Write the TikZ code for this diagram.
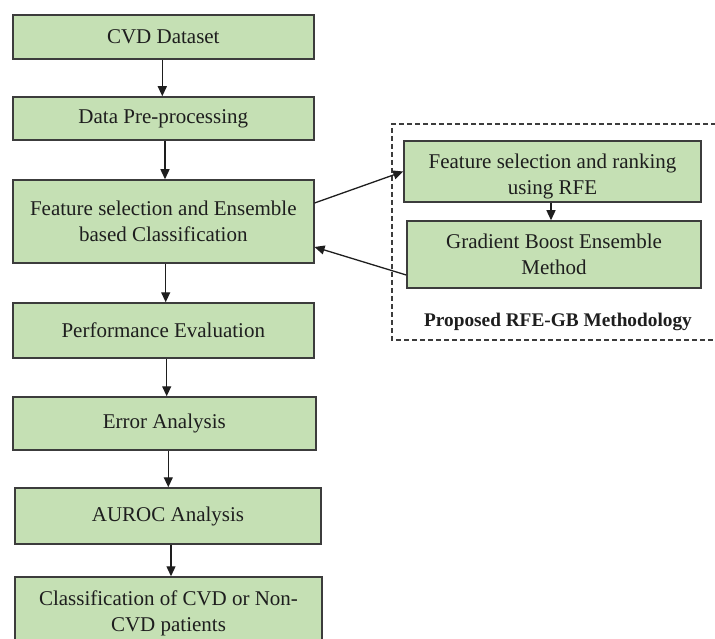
\documentclass[tikz,border=0pt]{standalone}
\usepackage{fontspec}
\setmainfont{Liberation Serif}
\usetikzlibrary{arrows.meta}
\definecolor{boxfill}{RGB}{197,224,180}
\definecolor{boxline}{RGB}{60,60,60}
\definecolor{ink}{RGB}{30,30,30}
\tikzset{
  stage/.style={draw=boxline, line width=1.5pt, fill=boxfill, inner sep=0pt,
    align=center, text=ink, font=\fontsize{21}{26}\selectfont},
  flow/.style={draw=ink, line width=1.3pt, -{Triangle[length=10pt,width=9pt]}},
  groupline/.style={draw=boxline, line width=1.2pt, dash pattern=on 5pt off 3pt},
  grouptitle/.style={text=ink, font=\fontsize{19.3}{23}\selectfont\bfseries}
}
\begin{document}
\begin{tikzpicture}[x=1pt,y=-1pt]
\useasboundingbox (0,0) rectangle (715,639);
\clip (0,0) rectangle (715,639);

% main pipeline
\node[stage, minimum width=301pt, minimum height=44pt] (b1) at (163.3,37) {CVD Dataset};
\node[stage, minimum width=301pt, minimum height=43pt] (b2) at (163.3,118.5) {Data Pre-processing};
\node[stage, minimum width=301pt, minimum height=83pt] (b3) at (163.3,221.5)
  {Feature selection and Ensemble\\based Classification};
\node[stage, minimum width=301pt, minimum height=55pt] (b4) at (163.3,330.5) {Performance Evaluation};
\node[stage, minimum width=303pt, minimum height=53pt] (b5) at (164.3,423.5) {Error Analysis};
\node[stage, minimum width=306pt, minimum height=56pt] (b6) at (168,516) {AUROC Analysis};
\node[stage, minimum width=307pt, minimum height=72pt] (b7) at (168.5,613)
  {Classification of CVD or Non-\\CVD patients};

% proposed RFE-GB group
\coordinate (gtop) at (392,124);
\coordinate (gbot) at (392,340);
\draw[groupline] ([xshift=340pt]gtop) -- (gtop) -- (gbot) -- ([xshift=340pt]gbot);
\node[stage, minimum width=297pt, minimum height=61pt] (bA) at (552.5,171.5)
  {\rule{0pt}{24pt}Feature selection and ranking\\using RFE};
\node[stage, minimum width=294pt, minimum height=67pt] (bB) at (554,254.5)
  {Gradient Boost Ensemble\\Method};
\node[grouptitle] (gtitle) at (558,322) {Proposed RFE-GB Methodology};

% connectors
\draw[flow] ([xshift=-1pt]b1.south) -- ([xshift=-1pt]b1.south |- b2.north);
\draw[flow] ([xshift=1.7pt]b2.south) -- ([xshift=1.7pt]b2.south |- b3.north);
\draw[flow] ([xshift=2.4pt]b3.south) -- ([xshift=2.4pt]b3.south |- b4.north);
\draw[flow] ([xshift=3.4pt]b4.south) -- ([xshift=3.4pt]b4.south |- b5.north);
\draw[flow] ([xshift=4pt]b5.south) -- ([xshift=4pt]b5.south |- b6.north);
\draw[flow] ([xshift=3pt]b6.south) -- ([xshift=3pt]b6.south |- b7.north);
\draw[flow] ([xshift=-1.5pt]bA.south) -- ([xshift=-1.5pt]bA.south |- bB.north);
\draw[flow] ([yshift=18.5pt]b3.east) -- (bA.west);
\draw[flow] ([yshift=-20.5pt]bB.west) -- ([yshift=-25.5pt]b3.east);
\end{tikzpicture}
\end{document}
